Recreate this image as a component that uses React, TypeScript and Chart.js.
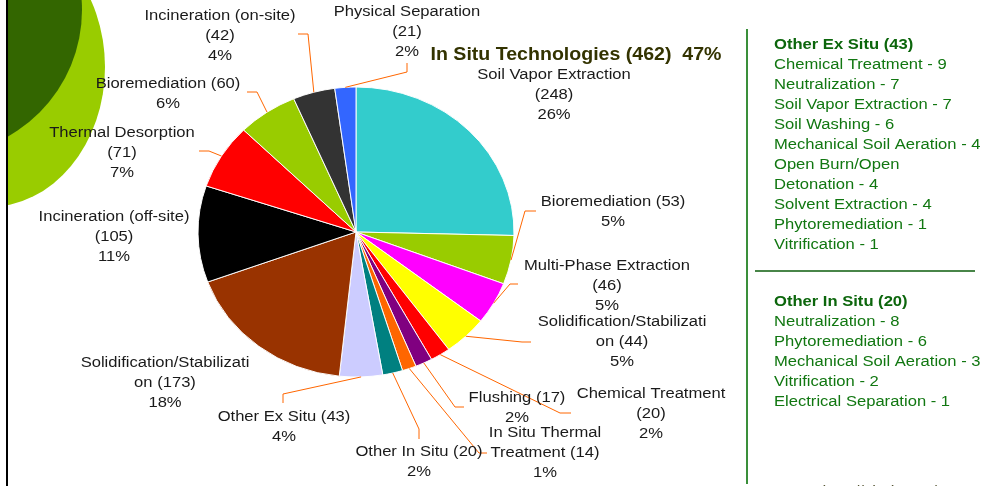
import React, { useEffect, useRef } from "react";
import { Chart, registerables } from "chart.js";

Chart.register(...registerables);

// ---------- data ----------
const sliceNames = [
  "Soil Vapor Extraction",
  "Bioremediation (in situ)",
  "Multi-Phase Extraction",
  "Solidification/Stabilization (in situ)",
  "Chemical Treatment",
  "Flushing",
  "In Situ Thermal Treatment",
  "Other In Situ",
  "Other Ex Situ",
  "Solidification/Stabilization (ex situ)",
  "Incineration (off-site)",
  "Thermal Desorption",
  "Bioremediation (ex situ)",
  "Incineration (on-site)",
  "Physical Separation",
];
const sliceValues = [248, 53, 46, 44, 20, 17, 14, 20, 43, 173, 105, 71, 60, 42, 21];
const slicePercents = ["26%", "5%", "5%", "5%", "2%", "2%", "1%", "2%", "4%", "18%", "11%", "7%", "6%", "4%", "2%"];
const sliceColors = [
  "#33CCCC", "#99CC00", "#FF00FF", "#FFFF00", "#FF0000", "#800080", "#FF6600", "#008080",
  "#CCCCFF", "#993300", "#000000", "#FF0000", "#99CC00", "#333333", "#3366FF",
];
// label text lines ({v} = value, {p} = percent)
const labelTemplates = [
  ["Soil Vapor Extraction", "({v})", "{p}"],
  ["Bioremediation ({v})", "{p}"],
  ["Multi-Phase Extraction", "({v})", "{p}"],
  ["Solidification/Stabilizati", "on ({v})", "{p}"],
  ["Chemical Treatment", "({v})", "{p}"],
  ["Flushing ({v})", "{p}"],
  ["In Situ Thermal", "Treatment ({v})", "{p}"],
  ["Other In Situ ({v})", "{p}"],
  ["Other Ex Situ ({v})", "{p}"],
  ["Solidification/Stabilizati", "on ({v})", "{p}"],
  ["Incineration (off-site)", "({v})", "{p}"],
  ["Thermal Desorption", "({v})", "{p}"],
  ["Bioremediation ({v})", "{p}"],
  ["Incineration (on-site)", "({v})", "{p}"],
  ["Physical Separation", "({v})", "{p}"],
];
const titleText = "In Situ Technologies (462)  47%";
const exSituHeader = "Other Ex Situ (43)";
const exSituItems = [
  "Chemical Treatment - 9",
  "Neutralization - 7",
  "Soil Vapor Extraction - 7",
  "Soil Washing - 6",
  "Mechanical Soil Aeration - 4",
  "Open Burn/Open",
  "Detonation - 4",
  "Solvent Extraction - 4",
  "Phytoremediation - 1",
  "Vitrification - 1",
];
const inSituHeader = "Other In Situ (20)";
const inSituItems = [
  "Neutralization - 8",
  "Phytoremediation - 6",
  "Mechanical Soil Aeration - 3",
  "Vitrification - 2",
  "Electrical Separation - 1",
];
const footnoteText = "*http://clu-in.org/asr";

// ---------- layout (label placement, not data) ----------
// [textX, firstLineY, leaderStartX, leaderStartY, elbowX, elbowY] ; leader absent when short
const labelLayout: (number[])[] = [
  [554, 75],
  [613, 202, 536, 211, 525, 211],
  [607, 266, 518, 284, 510, 284],
  [622, 322, 531, 342, 522, 342],
  [651, 394, 571, 413, 560, 413],
  [517, 398, 464, 407, 455, 407],
  [545, 433, 487, 453, 479, 453],
  [419, 452, 419, 439, 419, 429],
  [284, 417, 283, 403, 283, 394],
  [165, 363],
  [114, 217],
  [122, 133, 199, 151, 209, 151],
  [168, 84, 247, 92, 257, 92],
  [220, 16, 298, 34, 308, 34],
  [407, 12, 407, 63, 407, 72],
];

const W = 987;
const H = 486;
const SX = 1.07; // horizontal stretch of the slide text
const PIE_R = 158;
const PIE_SY = 145 / 158;
const FONT = "15.5px 'Liberation Sans', Arial, sans-serif";
const BOLD = "bold 15.5px 'Liberation Sans', Arial, sans-serif";

function drawText(ctx: CanvasRenderingContext2D, s: string, x: number, y: number, align: CanvasTextAlign) {
  ctx.save();
  ctx.translate(x, y);
  ctx.scale(SX, 1);
  ctx.textAlign = align;
  ctx.fillText(s, 0, 0);
  ctx.restore();
}

const slidePlugin = {
  id: "slideDecor",
  beforeDraw(chart: any) {
    const ctx: CanvasRenderingContext2D = chart.ctx;
    ctx.save();
    ctx.fillStyle = "#ffffff";
    ctx.fillRect(0, 0, W, H);
    // decorative circles, clipped at the left rule
    ctx.beginPath();
    ctx.rect(8, 0, W, H);
    ctx.clip();
    ctx.fillStyle = "#99CC00";
    ctx.beginPath();
    ctx.ellipse(-11, 67, 116, 140, 0, 0, Math.PI * 2);
    ctx.fill();
    ctx.fillStyle = "#336600";
    ctx.beginPath();
    ctx.arc(-63, 10, 145, 0, Math.PI * 2);
    ctx.fill();
    ctx.restore();
    // black left rule
    ctx.save();
    ctx.strokeStyle = "#000000";
    ctx.lineWidth = 2;
    ctx.beginPath();
    ctx.moveTo(7, 0);
    ctx.lineTo(7, H);
    ctx.stroke();
    ctx.restore();
  },
  beforeDatasetsDraw(chart: any) {
    const ctx: CanvasRenderingContext2D = chart.ctx;
    const a = chart.chartArea;
    const cx = (a.left + a.right) / 2;
    const cy = (a.top + a.bottom) / 2;
    ctx.save();
    ctx.translate(cx, cy);
    ctx.scale(1, PIE_SY);
    ctx.translate(-cx, -cy);
  },
  afterDatasetsDraw(chart: any) {
    chart.ctx.restore();
  },
  afterDraw(chart: any) {
    const ctx: CanvasRenderingContext2D = chart.ctx;
    const meta = chart.getDatasetMeta(0);
    // leader lines
    ctx.save();
    ctx.strokeStyle = "#FF6600";
    ctx.lineWidth = 1;
    meta.data.forEach((arc: any, i: number) => {
      const L = labelLayout[i];
      if (!L || L.length < 6) return;
      const p = arc.getProps(["startAngle", "endAngle", "x", "y", "outerRadius"], true);
      const mid = (p.startAngle + p.endAngle) / 2;
      const ex = p.x + p.outerRadius * Math.cos(mid);
      const ey = p.y + p.outerRadius * Math.sin(mid) * PIE_SY;
      ctx.beginPath();
      ctx.moveTo(L[2], L[3]);
      ctx.lineTo(L[4], L[5]);
      ctx.lineTo(ex, ey);
      ctx.stroke();
    });
    ctx.restore();

    // slice labels
    ctx.save();
    ctx.font = FONT;
    ctx.fillStyle = "#1a1a1a";
    ctx.textBaseline = "middle";
    labelTemplates.forEach((lines, i) => {
      const L = labelLayout[i];
      lines.forEach((t, j) => {
        const s = t.replace("{v}", String(sliceValues[i])).replace("{p}", slicePercents[i]);
        drawText(ctx, s, L[0], L[1] + j * 20, "center");
      });
    });
    ctx.restore();

    // title
    ctx.save();
    ctx.font = "bold 18.3px 'Liberation Sans', Arial, sans-serif";
    ctx.fillStyle = "#333300";
    ctx.textBaseline = "middle";
    drawText(ctx, titleText, 576, 55, "center");
    ctx.restore();

    // right panel
    ctx.save();
    ctx.strokeStyle = "#3a8f3a";
    ctx.lineWidth = 2;
    ctx.beginPath();
    ctx.moveTo(747, 29);
    ctx.lineTo(747, 484);
    ctx.stroke();
    ctx.strokeStyle = "#0b5d0b";
    ctx.lineWidth = 1.5;
    ctx.beginPath();
    ctx.moveTo(755, 271);
    ctx.lineTo(975, 271);
    ctx.stroke();
    ctx.textBaseline = "middle";
    ctx.font = BOLD;
    ctx.fillStyle = "#0c660c";
    drawText(ctx, exSituHeader, 774, 45, "left");
    drawText(ctx, inSituHeader, 774, 302, "left");
    ctx.font = FONT;
    ctx.fillStyle = "#117711";
    exSituItems.forEach((s, i) => drawText(ctx, s, 774, 65 + i * 20, "left"));
    inSituItems.forEach((s, i) => drawText(ctx, s, 774, 322 + i * 20, "left"));
    // footnote, mostly cut off at the bottom edge
    ctx.fillStyle = "#555533";
    ctx.font = FONT;
    ctx.textBaseline = "alphabetic";
    drawText(ctx, footnoteText, 816, 496, "left");
    ctx.restore();
  },
};

export default function App() {
  const canvasRef = useRef<HTMLCanvasElement | null>(null);

  useEffect(() => {
    const canvas = canvasRef.current;
    if (!canvas) return;
    const chart = new Chart(canvas, {
      type: "pie",
      data: {
        labels: sliceNames,
        datasets: [
          {
            data: sliceValues,
            backgroundColor: sliceColors,
            borderColor: "#ffffff",
            borderWidth: 1,
            clip: false as any,
          },
        ],
      },
      options: {
        responsive: false,
        animation: false,
        devicePixelRatio: 1,
        radius: PIE_R,
        layout: { padding: { left: 198, right: 473, top: 74, bottom: 96 } },
        plugins: {
          legend: { display: false },
          tooltip: { enabled: false },
        },
      } as any,
      plugins: [slidePlugin],
    });
    return () => chart.destroy();
  }, []);

  return (
    <div style={{ position: "fixed", left: 0, top: 0, width: W, height: H, background: "#fff", overflow: "hidden" }}>
      <canvas ref={canvasRef} width={W} height={H} style={{ display: "block", width: W, height: H }} />
    </div>
  );
}
